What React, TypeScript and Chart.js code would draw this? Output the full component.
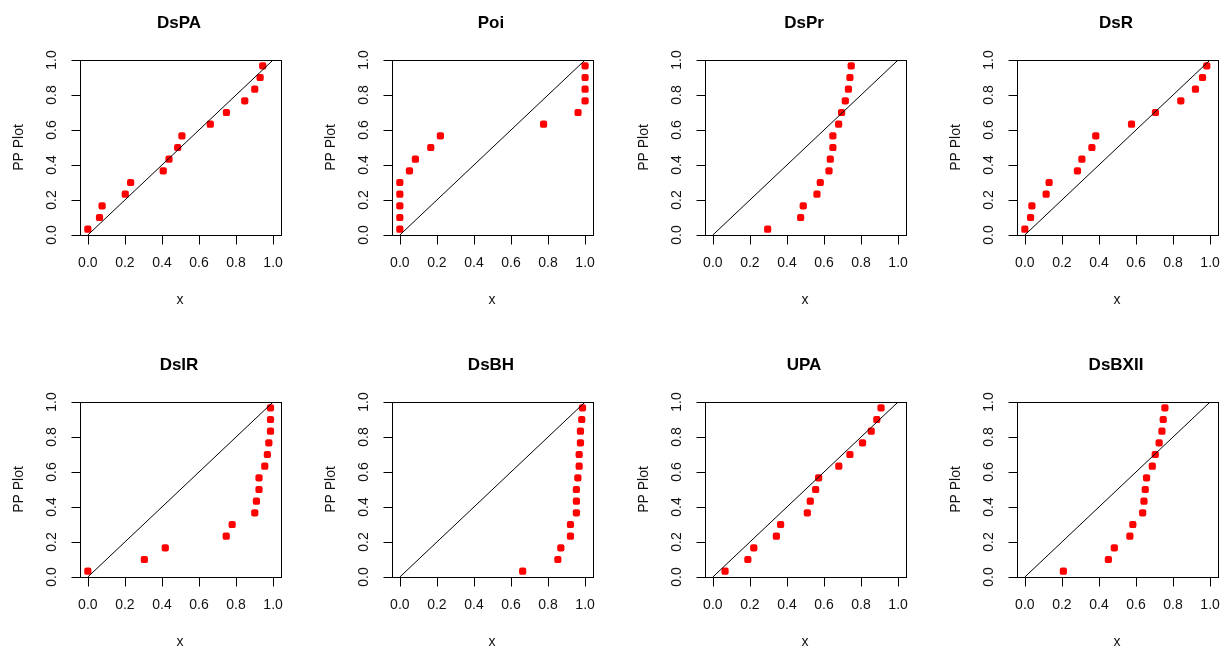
import React, { useEffect, useRef } from "react";
import { Chart, registerables } from "chart.js";

Chart.register(...registerables);

// ---------- data ----------
const TITLES = ["DsPA", "Poi", "DsPr", "DsR", "DsIR", "DsBH", "UPA", "DsBXII"];
const PP_Y = [0.033, 0.1, 0.167, 0.233, 0.3, 0.367, 0.433, 0.5, 0.567, 0.633, 0.7, 0.767, 0.833, 0.9, 0.967];
const X_DSPA = [0.0, 0.063, 0.077, 0.202, 0.231, 0.407, 0.438, 0.485, 0.508, 0.661, 0.748, 0.847, 0.901, 0.93, 0.944];
const X_POI = [0.0, 0.0, 0.0, 0.0, 0.0, 0.052, 0.084, 0.167, 0.219, 0.776, 0.962, 1.0, 1.0, 1.0, 1.0];
const X_DSPR = [0.296, 0.474, 0.488, 0.562, 0.58, 0.627, 0.634, 0.648, 0.648, 0.679, 0.695, 0.715, 0.732, 0.74, 0.747];
const X_DSR = [0.0, 0.031, 0.038, 0.115, 0.131, 0.284, 0.308, 0.362, 0.383, 0.576, 0.705, 0.842, 0.921, 0.959, 0.982];
const X_DSIR = [0.0, 0.305, 0.418, 0.747, 0.779, 0.901, 0.91, 0.924, 0.924, 0.955, 0.969, 0.977, 0.986, 0.986, 0.986];
const X_DSBH = [0.663, 0.853, 0.869, 0.921, 0.921, 0.953, 0.953, 0.953, 0.961, 0.968, 0.968, 0.975, 0.975, 0.982, 0.986];
const X_UPA = [0.066, 0.189, 0.221, 0.343, 0.366, 0.51, 0.526, 0.555, 0.571, 0.68, 0.74, 0.808, 0.855, 0.885, 0.908];
const X_DSBXII = [0.208, 0.451, 0.483, 0.567, 0.583, 0.636, 0.643, 0.65, 0.657, 0.688, 0.704, 0.725, 0.74, 0.747, 0.756];
const SERIES_X = [X_DSPA, X_POI, X_DSPR, X_DSR, X_DSIR, X_DSBH, X_UPA, X_DSBXII];
const DIAG_X = [0, 1];
const DIAG_Y = [0, 1];
const TICK_VALUES = [0, 0.2, 0.4, 0.6, 0.8, 1.0];
const TICK_LABELS = ["0.0", "0.2", "0.4", "0.6", "0.8", "1.0"];
const X_LABEL = "x";
const Y_LABEL = "PP Plot";

// ---------- layout ----------
const COL_LEFT = [0, 312, 624.6, 936.6];
const ROW_TOP = [0, 342];
const CW = 312;
const CH = 340;
const PAD = { left: 79.5, top: 60, right: 31.5, bottom: 105 };
const FONT = '"Liberation Sans", Arial, Helvetica, sans-serif';

const rFrame = {
  id: "rFrame",
  afterDraw(chart: any, _args: any, opts: any) {
    const { ctx, chartArea: a, scales } = chart;
    const xs = scales.x;
    const ys = scales.y;
    const L = Math.round(a.left) + 0.5;
    const R = Math.round(a.right) + 0.5;
    const T = Math.round(a.top) + 0.5;
    const B = Math.round(a.bottom) + 0.5;
    ctx.save();
    ctx.strokeStyle = "#000";
    ctx.lineWidth = 1;
    ctx.strokeRect(L, T, R - L, B - T);
    ctx.beginPath();
    TICK_VALUES.forEach((v) => {
      const px = Math.round(xs.getPixelForValue(v)) + 0.5;
      ctx.moveTo(px, B);
      ctx.lineTo(px, B + 9);
      const py = Math.round(ys.getPixelForValue(v)) + 0.5;
      ctx.moveTo(L, py);
      ctx.lineTo(L - 9, py);
    });
    ctx.stroke();

    ctx.fillStyle = "#111";
    ctx.font = `14px ${FONT}`;
    ctx.textAlign = "center";
    ctx.textBaseline = "middle";
    TICK_VALUES.forEach((v, i) => {
      const px = xs.getPixelForValue(v);
      ctx.fillText(TICK_LABELS[i], px, B + 28);
    });
    TICK_VALUES.forEach((v, i) => {
      const py = ys.getPixelForValue(v);
      ctx.save();
      ctx.translate(L - 28, py);
      ctx.rotate(-Math.PI / 2);
      ctx.fillText(TICK_LABELS[i], 0, 0);
      ctx.restore();
    });
    const cx = (a.left + a.right) / 2;
    const cy = (a.top + a.bottom) / 2;
    ctx.fillText(X_LABEL, cx, B + 65);
    ctx.save();
    ctx.translate(L - 61, cy);
    ctx.rotate(-Math.PI / 2);
    ctx.fillText(Y_LABEL, 0, 0);
    ctx.restore();

    ctx.fillStyle = "#000";
    ctx.font = `bold 17px ${FONT}`;
    ctx.fillText(opts.title, cx - 1, T - 37);
    ctx.restore();
  },
};

function Panel({ index }: { index: number }) {
  const ref = useRef<HTMLCanvasElement | null>(null);
  useEffect(() => {
    if (!ref.current) return;
    const xs = SERIES_X[index];
    const chart = new Chart(ref.current, {
      type: "scatter",
      data: {
        datasets: [
          {
            type: "line",
            data: DIAG_X.map((x, i) => ({ x, y: DIAG_Y[i] })),
            borderColor: "#000",
            borderWidth: 1,
            pointRadius: 0,
            fill: false,
            order: 0,
          } as any,
          {
            type: "scatter",
            data: xs.map((x, i) => ({ x, y: PP_Y[i] })),
            pointStyle: "rectRounded",
            pointRadius: 4.2,
            backgroundColor: "#ff0000",
            borderColor: "#ff0000",
            borderWidth: 0,
            order: 1,
          } as any,
        ],
      },
      options: {
        responsive: false,
        animation: false,
        devicePixelRatio: 1,
        layout: { padding: PAD, autoPadding: false },
        scales: {
          x: { type: "linear", min: -0.045, max: 1.04, display: false },
          y: { type: "linear", min: 0, max: 1, display: false },
        },
        plugins: {
          legend: { display: false },
          tooltip: { enabled: false },
          title: { display: false },
          rFrame: { title: TITLES[index] },
        } as any,
        events: [],
      },
      plugins: [rFrame],
    });
    return () => chart.destroy();
  }, [index]);
  const col = index % 4;
  const row = Math.floor(index / 4);
  return (
    <canvas
      ref={ref}
      width={CW}
      height={CH}
      style={{ position: "absolute", left: COL_LEFT[col], top: ROW_TOP[row], width: CW, height: CH }}
    />
  );
}

export default function App() {
  return (
    <div
      style={{
        position: "fixed",
        left: 0,
        top: 0,
        width: 1222,
        height: 647,
        overflow: "hidden",
        background: "#fff",
      }}
    >
      {TITLES.map((_, i) => (
        <Panel key={i} index={i} />
      ))}
    </div>
  );
}
